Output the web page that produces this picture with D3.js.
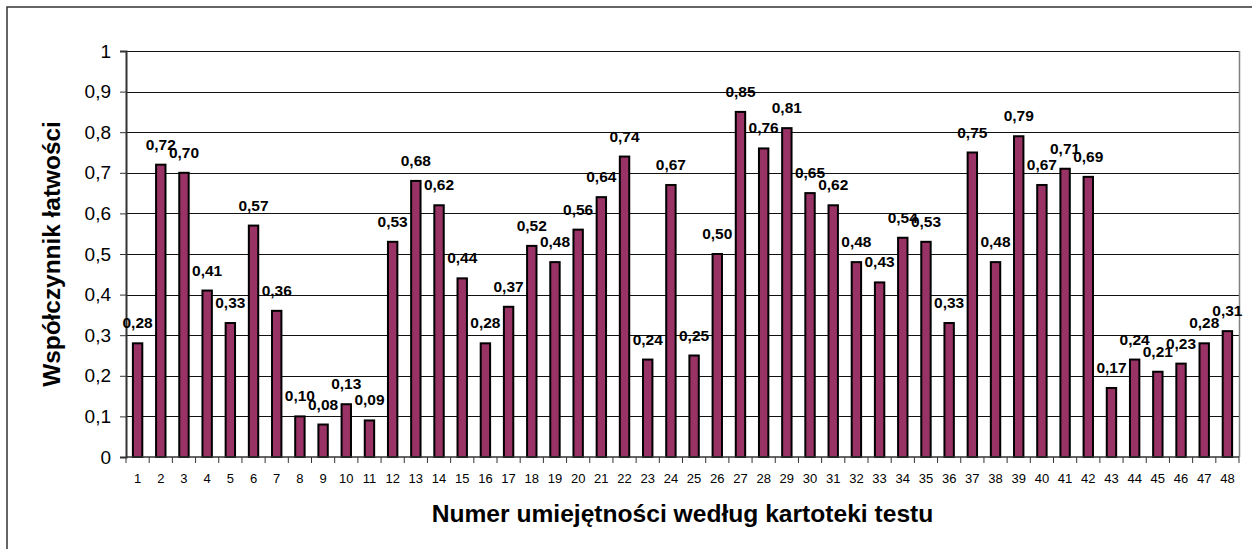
<!DOCTYPE html>
<html>
<head>
<meta charset="utf-8">
<script src="https://cdn.jsdelivr.net/npm/d3@7"></script>
<style>
  html, body { margin: 0; padding: 0; background: #fff; }
  svg { display: block; }
  text { font-family: "Liberation Sans", Arial, sans-serif; }
</style>
</head>
<body>
<svg id="chart" width="1252" height="549"></svg>
<script>
const categories = d3.range(1, 49).map(String);
const values = [0.28, 0.72, 0.70, 0.41, 0.33, 0.57, 0.36, 0.10, 0.08, 0.13, 0.09, 0.53,
  0.68, 0.62, 0.44, 0.28, 0.37, 0.52, 0.48, 0.56, 0.64, 0.74, 0.24, 0.67,
  0.25, 0.50, 0.85, 0.76, 0.81, 0.65, 0.62, 0.48, 0.43, 0.54, 0.53, 0.33,
  0.75, 0.48, 0.79, 0.67, 0.71, 0.69, 0.17, 0.24, 0.21, 0.23, 0.28, 0.31];
const yTicks = [0, 0.1, 0.2, 0.3, 0.4, 0.5, 0.6, 0.7, 0.8, 0.9, 1];
const yTitle = "Współczynnik łatwości";
const xTitle = "Numer umiejętności według kartoteki testu";

const svg = d3.select("#chart");
const pLeft = 126, pRight = 1239, pTop = 51, pBottom = 457;

// outer chart border
svg.append("rect").attr("x", 7).attr("y", 7).attr("width", 1270).attr("height", 570)
  .attr("fill", "none").attr("stroke", "#333").attr("stroke-width", 1.5);

const x = d3.scaleBand().domain(categories).range([pLeft, pRight]).padding(0);
const y = d3.scaleLinear().domain([0, 1]).range([pBottom, pTop]);

const fmtTick = d => (d === 0 || d === 1) ? String(d) : d3.format(".1f")(d).replace(".", ",");
const fmtLabel = d => d3.format(".2f")(d).replace(".", ",");

// gridlines
svg.append("g").selectAll("line").data(yTicks.filter(d => d > 0)).join("line")
  .attr("x1", pLeft).attr("x2", pRight)
  .attr("y1", d => Math.round(y(d)) + 0.5).attr("y2", d => Math.round(y(d)) + 0.5)
  .attr("stroke", "#111").attr("stroke-width", 1.1);

// right plot border
svg.append("line").attr("x1", pRight + 0.5).attr("x2", pRight + 0.5)
  .attr("y1", pTop).attr("y2", pBottom).attr("stroke", "#808080").attr("stroke-width", 1.5);

// y axis
const yAxis = d3.axisLeft(y).tickValues(yTicks).tickFormat(fmtTick).tickSize(6).tickPadding(9);
const gy = svg.append("g").attr("transform", `translate(${pLeft},0)`).call(yAxis);
gy.select(".domain").attr("stroke", "#333").attr("stroke-width", 2);
gy.selectAll(".tick line").attr("stroke", "#333");
gy.selectAll(".tick text").attr("font-size", 19).attr("fill", "#000")
  .attr("font-family", "Liberation Sans, Arial, sans-serif");

// bars
const bw = 9.4;
svg.append("g").selectAll("rect").data(values).join("rect")
  .attr("x", (d, i) => x(categories[i]) + x.bandwidth() / 2 - bw / 2)
  .attr("y", d => y(d))
  .attr("width", bw)
  .attr("height", d => y(0) - y(d))
  .attr("fill", "#993366").attr("stroke", "#000").attr("stroke-width", 2);

// x axis line + ticks between categories
svg.append("line").attr("x1", pLeft).attr("x2", pRight).attr("y1", pBottom).attr("y2", pBottom)
  .attr("stroke", "#333").attr("stroke-width", 1.5);
const bounds = categories.map(c => x(c)).concat([x(categories[categories.length - 1]) + x.bandwidth()]);
svg.append("g").selectAll("line").data(bounds).join("line")
  .attr("x1", d => d).attr("x2", d => d).attr("y1", pBottom).attr("y2", pBottom + 6)
  .attr("stroke", "#333").attr("stroke-width", 1);

// x tick labels
const xAxis = d3.axisBottom(x).tickSize(0).tickPadding(17);
const gx = svg.append("g").attr("transform", `translate(0,${pBottom})`).call(xAxis);
gx.select(".domain").remove();
gx.selectAll(".tick text").attr("font-size", 13).attr("fill", "#000")
  .attr("font-family", "Liberation Sans, Arial, sans-serif");

// data labels
svg.append("g").selectAll("text").data(values).join("text")
  .attr("x", (d, i) => x(categories[i]) + x.bandwidth() / 2)
  .attr("y", d => y(d) - 15)
  .attr("text-anchor", "middle")
  .attr("font-size", 15.5).attr("font-weight", "bold").attr("fill", "#000")
  .text(fmtLabel);

// axis titles
svg.append("text")
  .attr("transform", `translate(60,${(pTop + pBottom) / 2}) rotate(-90)`)
  .attr("text-anchor", "middle").attr("font-size", 24.4).attr("font-weight", "bold")
  .text(yTitle);
svg.append("text")
  .attr("x", (pLeft + pRight) / 2).attr("y", 522)
  .attr("text-anchor", "middle").attr("font-size", 24.6).attr("font-weight", "bold")
  .text(xTitle);
</script>
</body>
</html>
